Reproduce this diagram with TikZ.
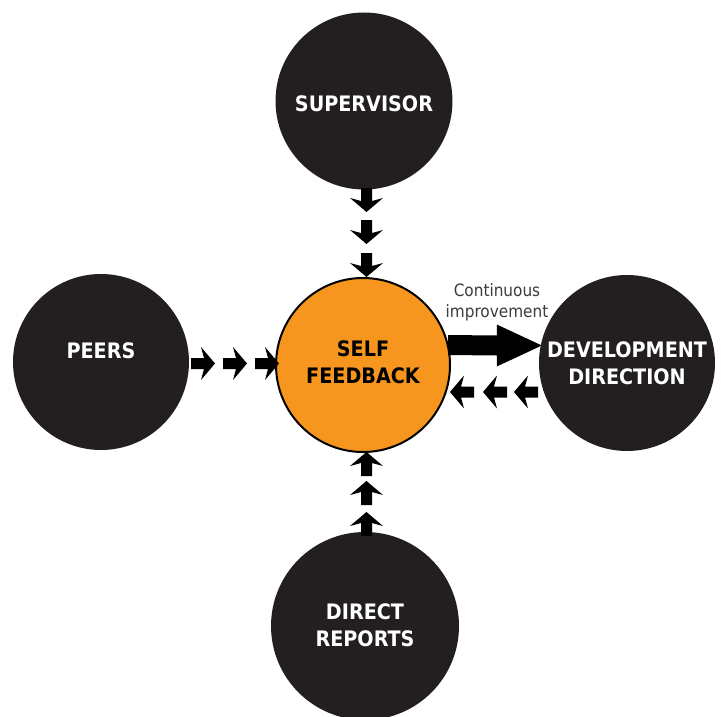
\documentclass[tikz,border=0pt]{standalone}
\usepackage{fontspec}
\newfontfamily\lblfont{DejaVu Sans Condensed}
\usetikzlibrary{calc}
\definecolor{circdark}{HTML}{231F20}
\definecolor{selforange}{HTML}{F7961E}
\definecolor{notegray}{HTML}{3C3C3C}
\tikzset{
  darkcirc/.style={circle, fill=circdark, inner sep=0pt, minimum size=#1},
  selfcirc/.style={circle, fill=selforange, draw=black, line width=2pt, inner sep=0pt, minimum size=174pt},
  lbl/.style={text=white, font=\lblfont\bfseries\fontsize{21.3}{27}\selectfont, align=center, inner sep=0pt},
  lbldark/.style={lbl, text=black},
  note/.style={text=notegray, font=\lblfont\fontsize{17}{21}\selectfont, inner sep=0pt, anchor=base},
  barrow/.pic={\fill[black] (0,-5.5) -- (13,-5.5) -- (10,-16.5) -- (24,0) -- (10,16.5) -- (13,5.5) -- (0,5.5) -- cycle;}
}
\begin{document}
\begin{tikzpicture}[x=1pt,y=-1pt]
\useasboundingbox (0,0) rectangle (721,717);
% circles
\node[darkcirc=177pt] (sup) at (364,101) {};
\node[darkcirc=176pt] (peers) at (101,362) {};
\node[darkcirc=176pt] (dev) at (627,363) {};
\node[darkcirc=188pt] (direct) at (365,626) {};
\node[selfcirc] (self) at (363,365) {};
% labels
\node[lbl] (tsup) at ($(sup)+(0,2.5)$) {SUPERVISOR};
\node[lbl] (tpeers) at ($(peers)+(0,-11)$) {PEERS};
\node[lbl] (tdev) at ($(dev)+(0,0)$) {DEVELOPMENT\\DIRECTION};
\node[lbl] (tdirect) at ($(direct)+(0,-1)$) {DIRECT\\REPORTS};
\node[lbldark] (tself) at ($(self)+(0,-2.5)$) {SELF\\FEEDBACK};
% supervisor arrows
\pic[rotate=-90] at (366.5,188) {barrow};
\pic[rotate=-90] at (366.5,220) {barrow};
\pic[rotate=-90] at (366.5,253) {barrow};
% peers arrows
\pic at (191,363.5) {barrow};
\pic at (223,363.5) {barrow};
\pic at (255,363.5) {barrow};
% direct reports arrows
\pic[rotate=90] at (366.5,476) {barrow};
\pic[rotate=90] at (366.5,505) {barrow};
\pic[rotate=90] at (366.5,536) {barrow};
% return arrows
\pic[rotate=180] at (538,392) {barrow};
\pic[rotate=180] at (507,392) {barrow};
\pic[rotate=180] at (474,392) {barrow};
% big arrow
\coordinate (bstart) at ($(self.east)+(-3,-20)$);
\coordinate (btip) at ($(dev.west)+(3,-17.5)$);
\fill[black] ($(bstart)+(0,-10)$) -- ($(btip)+(-45,-10)$) -- ($(btip)+(-45,-21)$) -- (btip) -- ($(btip)+(-45,21)$) -- ($(btip)+(-45,10)$) -- ($(bstart)+(0,10)$) -- cycle;
% note
\node[note] (c1) at (497,296) {Continuous};
\node[note] (c2) at (497,317) {improvement};
\end{tikzpicture}
\end{document}
